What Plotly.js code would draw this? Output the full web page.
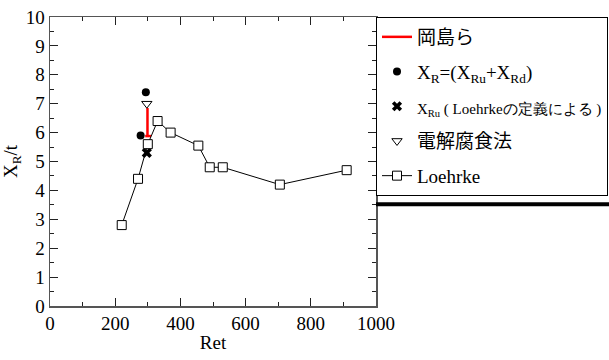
<!DOCTYPE html>
<html><head><meta charset="utf-8">
<script src="https://cdn.plot.ly/plotly-3.0.1.min.js"></script>
<style>body{margin:0;background:#fff}#c{width:609px;height:360px}</style>
</head><body><div id="c"></div>
<script>
// Loehrke data
const loehrkeRet = [220, 270, 300, 330, 370, 455, 490, 530, 705, 910];
const loehrkeXR  = [2.8, 4.4, 5.6, 6.4, 6.0, 5.55, 4.8, 4.8, 4.2, 4.7];
// 岡島ら range line
const okaRet = [299, 299, null, 292, 310];
const okaXR  = [6.85, 5.88, null, 5.88, 5.88];
// X_R = (X_Ru + X_Rd)
const sumRet = [278, 294];
const sumXR  = [5.9, 7.4];
// X_Ru (Loehrke definition)
const xruRet = [297];
const xruXR  = [5.3];
// 電解腐食法
const elecRet = [297];
const elecXR  = [7.0];
// tick labels
const xTickVals = [0, 200, 400, 600, 800, 1000];
const xTickText = ['0', '200', '400', '600', '800', '1000'];
const yTickVals = [0, 1, 2, 3, 4, 5, 6, 7, 8, 9, 10];
const yTickText = ['0', '1', '2', '3', '4', '5', '6', '7', '8', '9', '10'];

const SERIF = 'Liberation Serif';

const traces = [
  {x: okaRet, y: okaXR, mode: 'lines', name: '<span style="font-family:Noto Sans CJK JP">岡島ら</span>',
   line: {color: '#ff0000', width: 2.5}, legendgroup: 'a', connectgaps: false},
  {x: sumRet, y: sumXR, mode: 'markers', name: 'X<sub>R</sub>=(X<sub>Ru</sub>+X<sub>Rd</sub>)',
   marker: {symbol: 'circle', size: 8, color: '#000'}, legendgroup: 'b'},
  {x: xruRet, y: xruXR, mode: 'markers', name: '<span style="font-size:15px">X<sub>Ru</sub> ( Loehrkeの定義による )</span>',
   marker: {symbol: 'x', size: 9, color: '#000'}, legendgroup: 'c'},
  {x: elecRet, y: elecXR, mode: 'markers', name: '<span style="font-family:Noto Sans CJK JP">電解腐食法</span>',
   marker: {symbol: 'triangle-down-open', size: 9, color: '#000', line: {width: 1}}, legendgroup: 'd'},
  {x: loehrkeRet, y: loehrkeXR, mode: 'lines+markers', name: 'Loehrke',
   line: {color: '#000', width: 1},
   marker: {symbol: 'square', size: 9, color: '#fff', line: {color: '#000', width: 1}}, legendgroup: 'e'}
];

const layout = {
  width: 609, height: 360,
  margin: {l: 50, r: 233, t: 16.5, b: 54, autoexpand: false},
  paper_bgcolor: '#fff', plot_bgcolor: '#fff',
  font: {family: SERIF, size: 19, color: '#000'},
  xaxis: {range: [0, 1000], tickmode: 'array', tickvals: xTickVals, ticktext: xTickText,
    showgrid: false, zeroline: false, showline: true, mirror: 'ticks',
    linecolor: '#555', linewidth: 1.5, ticks: 'inside', ticklen: 8, tickwidth: 1, tickcolor: '#222',
    tickfont: {family: SERIF, size: 19, color: '#000'},
    minor: {dtick: 100, tick0: 0, ticks: 'inside', ticklen: 4, tickcolor: '#222'},
    title: {text: 'Ret', font: {family: SERIF, size: 19, color: '#000'}, standoff: 2}},
  yaxis: {range: [0, 10], tickmode: 'array', tickvals: yTickVals, ticktext: yTickText,
    showgrid: false, zeroline: false, showline: true, mirror: 'ticks',
    linecolor: '#555', linewidth: 1.5, ticks: 'inside', ticklen: 8, tickwidth: 1, tickcolor: '#222',
    tickfont: {family: SERIF, size: 19, color: '#000'},
    minor: {dtick: 0.5, tick0: 0, ticks: 'inside', ticklen: 4, tickcolor: '#222'},
    title: {text: 'X<sub>R</sub>/t', font: {family: SERIF, size: 19, color: '#000'}, standoff: 4}},
  showlegend: true,
  legend: {x: 1, xanchor: 'left', y: 1, yanchor: 'top', bgcolor: '#fff', bordercolor: '#000', borderwidth: 1,
    font: {family: SERIF, size: 19, color: '#000'}, tracegroupgap: 7, traceorder: 'grouped'},
  shapes: [
    {type: 'line', xref: 'paper', yref: 'paper', x0: 1.0, x1: 1.8, y0: 0.352, y1: 0.352,
     line: {color: '#000', width: 4}}
  ]
};
Plotly.newPlot('c', traces, layout, {displayModeBar: false, staticPlot: true}).then(() => {
  document.querySelectorAll('#c text').forEach(el => {
    el.style.setProperty('font-family', '"Liberation Serif", "Times New Roman", serif', 'important');
    el.setAttribute('font-family', 'Liberation Serif');
  });
});
</script></body></html>
